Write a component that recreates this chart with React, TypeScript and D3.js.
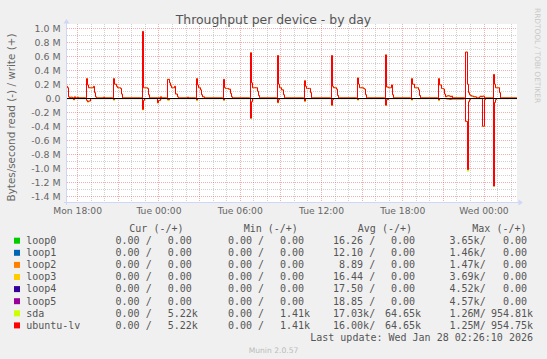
import React from "react";
import * as d3 from "d3";

// ---------- data ----------
const DAY_INDEX: Record<string, number> = { Mon: 0, Tue: 1, Wed: 2 };
const START_TIME = "Mon 17:11:17";
const END_TIME = "Wed 02:26:10";

// ubuntu-lv write (M bytes/s)
const ubuntuWrite: [string, number][] = [
  ["Mon 17:05", 0.17], ["Mon 17:10", 0.17], ["Mon 17:15", 0.15], ["Mon 17:20", 0.02], ["Mon 17:25", 0.005],
  ["Mon 17:30", 0.015], ["Mon 17:35", 0.005], ["Mon 17:45", 0.02], ["Mon 17:50", 0.005], ["Mon 18:00", 0.015],
  ["Mon 18:05", 0.005], ["Mon 18:35", 0.005],
  ["Mon 18:40", 0.28], ["Mon 18:45", 0.19], ["Mon 18:50", 0.15], ["Mon 18:55", 0.15], ["Mon 19:00", 0.15],
  ["Mon 19:05", 0.15], ["Mon 19:10", 0.17], ["Mon 19:15", 0.08], ["Mon 19:20", 0.02], ["Mon 19:25", 0.005],
  ["Mon 19:55", 0.015], ["Mon 20:00", 0.005], ["Mon 20:35", 0.005],
  ["Mon 20:40", 0.28], ["Mon 20:45", 0.2], ["Mon 20:50", 0.17], ["Mon 20:55", 0.15], ["Mon 21:00", 0.15],
  ["Mon 21:05", 0.15], ["Mon 21:10", 0.14], ["Mon 21:15", 0.06], ["Mon 21:20", 0.005], ["Mon 22:40", 0.005],
  ["Mon 22:45", 0.955], ["Mon 22:50", 0.15], ["Mon 22:55", 0.15], ["Mon 23:00", 0.15], ["Mon 23:05", 0.15],
  ["Mon 23:10", 0.14], ["Mon 23:15", 0.05], ["Mon 23:20", 0.005], ["Mon 23:55", 0.005], ["Tue 00:05", 0.02],
  ["Tue 00:10", 0.005], ["Tue 00:35", 0.005],
  ["Tue 00:40", 0.27], ["Tue 00:45", 0.22], ["Tue 00:50", 0.18], ["Tue 00:55", 0.15], ["Tue 01:00", 0.15],
  ["Tue 01:05", 0.15], ["Tue 01:10", 0.17], ["Tue 01:15", 0.06], ["Tue 01:20", 0.02], ["Tue 01:25", 0.005],
  ["Tue 02:05", 0.015], ["Tue 02:10", 0.005], ["Tue 02:40", 0.005],
  ["Tue 02:45", 0.28], ["Tue 02:50", 0.19], ["Tue 02:55", 0.15], ["Tue 03:00", 0.15], ["Tue 03:05", 0.12],
  ["Tue 03:10", 0.05], ["Tue 03:15", 0.02], ["Tue 03:20", 0.005], ["Tue 04:40", 0.005],
  ["Tue 04:45", 0.27], ["Tue 04:50", 0.15], ["Tue 04:55", 0.14], ["Tue 05:00", 0.14], ["Tue 05:05", 0.14],
  ["Tue 05:10", 0.13], ["Tue 05:15", 0.07], ["Tue 05:20", 0.02], ["Tue 05:25", 0.005], ["Tue 06:40", 0.005],
  ["Tue 06:45", 0.65], ["Tue 06:50", 0.22], ["Tue 06:55", 0.15], ["Tue 07:00", 0.15], ["Tue 07:05", 0.15],
  ["Tue 07:10", 0.15], ["Tue 07:15", 0.1], ["Tue 07:20", 0.04], ["Tue 07:25", 0.005], ["Tue 08:40", 0.005],
  ["Tue 08:45", 0.61], ["Tue 08:50", 0.2], ["Tue 08:55", 0.15], ["Tue 09:00", 0.15], ["Tue 09:05", 0.12],
  ["Tue 09:10", 0.05], ["Tue 09:15", 0.005], ["Tue 10:40", 0.005],
  ["Tue 10:45", 0.25], ["Tue 10:50", 0.17], ["Tue 10:55", 0.14], ["Tue 11:00", 0.14], ["Tue 11:05", 0.14],
  ["Tue 11:10", 0.08], ["Tue 11:15", 0.005], ["Tue 12:40", 0.005],
  ["Tue 12:45", 0.61], ["Tue 12:50", 0.17], ["Tue 12:55", 0.15], ["Tue 13:00", 0.15], ["Tue 13:05", 0.13],
  ["Tue 13:10", 0.04], ["Tue 13:15", 0.005], ["Tue 14:35", 0.005],
  ["Tue 14:40", 0.29], ["Tue 14:45", 0.2], ["Tue 14:50", 0.15], ["Tue 14:55", 0.15], ["Tue 15:00", 0.15],
  ["Tue 15:05", 0.14], ["Tue 15:10", 0.13], ["Tue 15:15", 0.05], ["Tue 15:20", 0.005], ["Tue 16:40", 0.005],
  ["Tue 16:45", 0.62], ["Tue 16:50", 0.16], ["Tue 16:55", 0.15], ["Tue 17:00", 0.15], ["Tue 17:05", 0.15],
  ["Tue 17:10", 0.19], ["Tue 17:15", 0.05], ["Tue 17:20", 0.005], ["Tue 18:35", 0.005],
  ["Tue 18:40", 0.28], ["Tue 18:45", 0.2], ["Tue 18:50", 0.15], ["Tue 18:55", 0.15], ["Tue 19:00", 0.15],
  ["Tue 19:05", 0.15], ["Tue 19:10", 0.12], ["Tue 19:15", 0.04], ["Tue 19:20", 0.005], ["Tue 20:35", 0.005],
  ["Tue 20:40", 0.28], ["Tue 20:45", 0.19], ["Tue 20:50", 0.14], ["Tue 20:55", 0.14], ["Tue 21:00", 0.13],
  ["Tue 21:05", 0.06], ["Tue 21:10", 0.02], ["Tue 21:15", 0.03], ["Tue 21:20", 0.035], ["Tue 21:25", 0.03],
  ["Tue 21:30", 0.02], ["Tue 21:35", 0.03], ["Tue 21:40", 0.005], ["Tue 22:35", 0.005],
  ["Tue 22:40", 0.66], ["Tue 22:45", 0.2], ["Tue 22:50", 0.08], ["Tue 22:55", 0.05], ["Tue 23:00", 0.04],
  ["Tue 23:05", 0.03], ["Tue 23:10", 0.03], ["Tue 23:15", 0.02], ["Tue 23:25", 0.005], ["Tue 23:40", 0.02],
  ["Tue 23:45", 0.03], ["Tue 23:50", 0.02], ["Tue 23:55", 0.03], ["Wed 00:00", 0.005], ["Wed 00:35", 0.005],
  ["Wed 00:40", 0.34], ["Wed 00:45", 0.2], ["Wed 00:50", 0.15], ["Wed 00:55", 0.15], ["Wed 01:00", 0.15],
  ["Wed 01:05", 0.15], ["Wed 01:10", 0.08], ["Wed 01:15", 0.005], ["Wed 02:25", 0.005], ["Wed 02:30", 0.005],
];

// ubuntu-lv read (M bytes/s, drawn negative)
const ubuntuRead: [string, number][] = [
  ["Mon 17:05", 0.005], ["Mon 17:35", 0.005], ["Mon 17:40", 0.02], ["Mon 17:45", 0.005], ["Mon 18:35", 0.005],
  ["Mon 18:40", 0.03], ["Mon 18:45", 0.05], ["Mon 18:50", 0.04], ["Mon 18:55", 0.01], ["Mon 19:00", 0.005],
  ["Mon 20:35", 0.005], ["Mon 20:40", 0.02], ["Mon 20:45", 0.005], ["Mon 22:40", 0.005], ["Mon 22:45", 0.16],
  ["Mon 22:50", 0.03], ["Mon 22:55", 0.01], ["Mon 23:00", 0.005], ["Mon 23:50", 0.005], ["Mon 23:55", 0.065],
  ["Tue 00:00", 0.03], ["Tue 00:05", 0.01], ["Tue 00:10", 0.005], ["Tue 00:35", 0.005], ["Tue 00:40", 0.02],
  ["Tue 00:45", 0.005], ["Tue 02:40", 0.005], ["Tue 02:45", 0.025], ["Tue 02:50", 0.005], ["Tue 04:40", 0.005],
  ["Tue 04:45", 0.025], ["Tue 04:50", 0.005], ["Tue 06:40", 0.005], ["Tue 06:45", 0.285], ["Tue 06:50", 0.05],
  ["Tue 06:55", 0.01], ["Tue 07:00", 0.005], ["Tue 08:40", 0.005], ["Tue 08:45", 0.06], ["Tue 08:50", 0.02],
  ["Tue 08:55", 0.005], ["Tue 10:40", 0.005], ["Tue 10:45", 0.04], ["Tue 10:50", 0.005], ["Tue 12:40", 0.005],
  ["Tue 12:45", 0.1], ["Tue 12:50", 0.02], ["Tue 12:55", 0.005], ["Tue 14:35", 0.005], ["Tue 14:40", 0.02],
  ["Tue 14:45", 0.005], ["Tue 16:40", 0.005], ["Tue 16:45", 0.1], ["Tue 16:50", 0.02], ["Tue 16:55", 0.005],
  ["Tue 18:35", 0.005], ["Tue 18:40", 0.02], ["Tue 18:45", 0.005], ["Tue 20:35", 0.005], ["Tue 20:40", 0.025],
  ["Tue 20:45", 0.005], ["Tue 21:15", 0.01], ["Tue 21:25", 0.015], ["Tue 21:35", 0.01], ["Tue 22:35", 0.005],
  ["Tue 22:40", 0.33], ["Tue 22:45", 1.02], ["Tue 22:50", 0.05], ["Tue 22:55", 0.02], ["Tue 23:00", 0.005],
  ["Tue 23:50", 0.005], ["Tue 23:55", 0.4], ["Wed 00:00", 0.02], ["Wed 00:05", 0.005], ["Wed 00:35", 0.005],
  ["Wed 00:40", 1.255], ["Wed 00:45", 0.06], ["Wed 00:50", 0.02], ["Wed 00:55", 0.005], ["Wed 02:30", 0.005],
];

// sda read: the same device underneath, slightly deeper at the read bursts
const sdaRead: [string, number][] = [
  ["Mon 17:05", 0.005], ["Mon 17:35", 0.005], ["Mon 17:40", 0.025], ["Mon 17:45", 0.005], ["Mon 18:35", 0.005],
  ["Mon 18:40", 0.035], ["Mon 18:45", 0.055], ["Mon 18:50", 0.04], ["Mon 18:55", 0.01], ["Mon 19:00", 0.005],
  ["Mon 20:35", 0.005], ["Mon 20:40", 0.03], ["Mon 20:45", 0.005], ["Mon 22:40", 0.005], ["Mon 22:45", 0.17],
  ["Mon 22:50", 0.03], ["Mon 22:55", 0.01], ["Mon 23:00", 0.005], ["Mon 23:50", 0.005], ["Mon 23:55", 0.07],
  ["Tue 00:00", 0.03], ["Tue 00:05", 0.01], ["Tue 00:10", 0.005], ["Tue 00:35", 0.005], ["Tue 00:40", 0.03],
  ["Tue 00:45", 0.005], ["Tue 02:40", 0.005], ["Tue 02:45", 0.035], ["Tue 02:50", 0.005], ["Tue 04:40", 0.005],
  ["Tue 04:45", 0.035], ["Tue 04:50", 0.005], ["Tue 06:40", 0.005], ["Tue 06:45", 0.29], ["Tue 06:50", 0.05],
  ["Tue 06:55", 0.01], ["Tue 07:00", 0.005], ["Tue 08:40", 0.005], ["Tue 08:45", 0.07], ["Tue 08:50", 0.02],
  ["Tue 08:55", 0.005], ["Tue 10:40", 0.005], ["Tue 10:45", 0.05], ["Tue 10:50", 0.005], ["Tue 12:40", 0.005],
  ["Tue 12:45", 0.105], ["Tue 12:50", 0.02], ["Tue 12:55", 0.005], ["Tue 14:35", 0.005], ["Tue 14:40", 0.03],
  ["Tue 14:45", 0.005], ["Tue 16:40", 0.005], ["Tue 16:45", 0.105], ["Tue 16:50", 0.02], ["Tue 16:55", 0.005],
  ["Tue 18:35", 0.005], ["Tue 18:40", 0.03], ["Tue 18:45", 0.005], ["Tue 20:35", 0.005], ["Tue 20:40", 0.035],
  ["Tue 20:45", 0.005], ["Tue 21:15", 0.01], ["Tue 21:25", 0.015], ["Tue 21:35", 0.01], ["Tue 22:35", 0.005],
  ["Tue 22:40", 0.33], ["Tue 22:45", 1.045], ["Tue 22:50", 0.05], ["Tue 22:55", 0.02], ["Tue 23:00", 0.005],
  ["Tue 23:50", 0.005], ["Tue 23:55", 0.405], ["Wed 00:00", 0.02], ["Wed 00:05", 0.005], ["Wed 00:35", 0.005],
  ["Wed 00:40", 1.26], ["Wed 00:45", 0.06], ["Wed 00:50", 0.02], ["Wed 00:55", 0.005], ["Wed 02:30", 0.005],
];
const sdaWrite = ubuntuWrite;

// legend
const seriesNames = ["loop0", "loop1", "loop2", "loop3", "loop4", "loop5", "sda", "ubuntu-lv"];
const seriesColors = ["#00CC00", "#0066B3", "#FF8000", "#FFCC00", "#330099", "#990099", "#CCFF00", "#FF0000"];
const curRead = [0, 0, 0, 0, 0, 0, 0, 0];
const curWrite = [0, 0, 0, 0, 0, 0, 5220, 5220];
const minRead = [0, 0, 0, 0, 0, 0, 0, 0];
const minWrite = [0, 0, 0, 0, 0, 0, 1410, 1410];
const avgRead = [16.26, 12.1, 8.89, 16.44, 17.5, 18.85, 17030, 16000];
const avgWrite = [0, 0, 0, 0, 0, 0, 64650, 64650];
const maxRead = [3650, 1460, 1470, 3690, 4520, 4570, 1260000, 1250000];
const maxWrite = [0, 0, 0, 0, 0, 0, 954810, 954750];
const legendHeaders = ["Cur (-/+)", "Min (-/+)", "Avg (-/+)", "Max (-/+)"];

const yMajorTicks = [1.0, 0.8, 0.6, 0.4, 0.2, 0.0, -0.2, -0.4, -0.6, -0.8, -1.0, -1.2, -1.4];
const yMinorTicks = [0.9, 0.7, 0.5, 0.3, 0.1, -0.1, -0.3, -0.5, -0.7, -0.9, -1.1, -1.3];

const TITLE = "Throughput per device - by day";
const Y_LABEL = "Bytes/second read (-) / write (+)";
const WATERMARK = "RRDTOOL / TOBI OETIKER";
const LAST_UPDATE = "Last update: Wed Jan 28 02:26:10 2026";
const VERSION = "Munin 2.0.57";

// ---------- helpers ----------
function parseT(s: string): Date {
  const [d, hms] = s.split(" ");
  const [h, m, sec] = hms.split(":").map(Number);
  return new Date(Date.UTC(2026, 0, 26 + DAY_INDEX[d], h, m, sec || 0));
}
function fmtSI(v: number): [string, string] {
  if (v >= 1e6) return [(v / 1e6).toFixed(2), "M"];
  if (v >= 1e3) return [(v / 1e3).toFixed(2), "k"];
  return [v.toFixed(2), " "];
}
function readCell(v: number) {
  const [n, p] = fmtSI(v);
  return n.padStart(6, " ") + p + "/";
}
function writeCell(v: number) {
  const [n, p] = fmtSI(v);
  return n.padStart(6, " ") + p;
}

const PLOT = { left: 66.7, right: 517, top: 24, bottom: 202 };
const Y_DOMAIN: [number, number] = [-1.483, 1.061];

export default function App() {
  const x = d3.scaleUtc().domain([parseT(START_TIME), parseT(END_TIME)]).range([PLOT.left, PLOT.right]);
  const y = d3.scaleLinear().domain(Y_DOMAIN).range([PLOT.bottom, PLOT.top]);

  const majorX = x.ticks(d3.utcHour.every(3)!);
  const minorX = x.ticks(d3.utcHour.every(1)!).filter((t) => t.getUTCHours() % 3 !== 0);
  const labelX = x.ticks(d3.utcHour.every(6)!);
  const fmtX = d3.utcFormat("%a %H:%M");

  const px = (v: number) => Math.round(v - 0.5) + 0.5;

  const lineGen = (sign: number) =>
    d3.line<[string, number]>()
      .x((d) => px(x(parseT(d[0]))))
      .y((d) => y(sign * d[1]))
      .curve(d3.curveStepAfter);

  const mono = "'DejaVu Sans Mono', monospace";
  const sans = "'DejaVu Sans', sans-serif";
  const textCol = "#555";

  const colReadX = [103.5, 215.9, 327, 437.5];
  const colWriteX = [155.6, 267.9, 378.9, 490.9];
  const headerX = [129.3, 243.7, 357.8, 472.3];
  const rowBase = (i: number) => 244 + 12.1 * i;

  return (
    <svg width={547} height={359} style={{ display: "block", position: "absolute", left: 0, top: 0 }}
      xmlns="http://www.w3.org/2000/svg">
      <rect x={0} y={0} width={547} height={359} fill="#F0F0F0" />
      <rect x={PLOT.left} y={PLOT.top} width={PLOT.right - PLOT.left} height={PLOT.bottom - PLOT.top} fill="#FFFFFF" />
      <defs>
        <clipPath id="plotclip">
          <rect x={PLOT.left} y={PLOT.top - 2} width={PLOT.right - PLOT.left} height={PLOT.bottom - PLOT.top + 2} />
        </clipPath>
      </defs>

      {/* minor grid */}
      <g stroke="rgba(143,143,143,0.42)" strokeWidth={1} strokeDasharray="1,1" shapeRendering="crispEdges">
        {minorX.map((t, i) => (
          <line key={"vx" + i} x1={px(x(t))} x2={px(x(t))} y1={PLOT.top} y2={PLOT.bottom} />
        ))}
        {yMinorTicks.map((v, i) => (
          <line key={"hy" + i} x1={PLOT.left} x2={PLOT.right} y1={px(y(v))} y2={px(y(v))} />
        ))}
      </g>
      {/* major grid */}
      <g stroke="rgba(222,79,79,0.45)" strokeWidth={1} strokeDasharray="1,1" shapeRendering="crispEdges">
        {majorX.map((t, i) => (
          <line key={"mx" + i} x1={px(x(t))} x2={px(x(t))} y1={PLOT.top} y2={PLOT.bottom} />
        ))}
        {yMajorTicks.map((v, i) => (
          <line key={"my" + i} x1={PLOT.left} x2={PLOT.right} y1={px(y(v))} y2={px(y(v))} />
        ))}
      </g>

      {/* series */}
      <g clipPath="url(#plotclip)" fill="none" strokeWidth={1}>
        <path d={lineGen(1)(sdaWrite) || ""} stroke="#CCFF00" />
        <path d={lineGen(-1)(sdaRead) || ""} stroke="#CCFF00" />
        <path d={lineGen(1)(ubuntuWrite) || ""} stroke="#FF0000" />
        <path d={lineGen(-1)(ubuntuRead) || ""} stroke="#FF0000" />
        <line x1={PLOT.left} x2={PLOT.right} y1={px(y(0))} y2={px(y(0))} stroke="#000" strokeWidth={1} />
      </g>

      {/* axes */}
      <g stroke="#CFD6F8" fill="#CFD6F8" shapeRendering="crispEdges">
        <line x1={66.5} x2={66.5} y1={PLOT.bottom + 3} y2={PLOT.top - 2} />
        <line x1={PLOT.left - 3} x2={PLOT.right + 3} y1={PLOT.bottom + 0.5} y2={PLOT.bottom + 0.5} />
      </g>
      <polygon points={`63.5,${PLOT.top - 0.5} 69.5,${PLOT.top - 0.5} 66.5,${PLOT.top - 5}`} fill="#CFD6F8" />
      <polygon points={`${PLOT.right + 1.5},${PLOT.bottom - 2.5} ${PLOT.right + 1.5},${PLOT.bottom + 3.5} ${PLOT.right + 6},${PLOT.bottom + 0.5}`} fill="#CFD6F8" />

      {/* y tick labels */}
      <g fontFamily={sans} fontSize={9.4} fill="#666" textAnchor="end">
        {yMajorTicks.map((v, i) => (
          <text key={"yl" + i} x={60.5} y={y(v) + 3.4}>{v === 0 ? "0.0" : v.toFixed(1) + " M"}</text>
        ))}
      </g>
      {/* x tick labels */}
      <g fontFamily={sans} fontSize={9.2} fill="#666" textAnchor="middle">
        {labelX.map((t, i) => (
          <text key={"xl" + i} x={x(t)} y={214}>{fmtX(t)}</text>
        ))}
      </g>

      {/* title & labels */}
      <text x={273.5} y={23.5} textAnchor="middle" fontFamily={sans} fontSize={12.4} fill="#555">{TITLE}</text>
      <text transform="translate(15,117.5) rotate(-90)" textAnchor="middle" fontFamily={sans} fontSize={10.4} fill="#666">{Y_LABEL}</text>
      <text transform="translate(535,8) rotate(90)" fontFamily={sans} fontSize={7.4} fill="#C8C8C8">{WATERMARK}</text>

      {/* legend */}
      <g fontFamily={mono} fontSize={10} fill={textCol} style={{ whiteSpace: "pre" }}>
        {legendHeaders.map((h, i) => (
          <text key={"hd" + i} x={headerX[i]} y={232} xmlSpace="preserve">{h}</text>
        ))}
        {seriesNames.map((name, i) => {
          const cells = [
            [readCell(curRead[i]), writeCell(curWrite[i])],
            [readCell(minRead[i]), writeCell(minWrite[i])],
            [readCell(avgRead[i]), writeCell(avgWrite[i])],
            [readCell(maxRead[i]), writeCell(maxWrite[i])],
          ];
          const yb = rowBase(i);
          return (
            <g key={"lg" + i}>
              <rect x={14} y={yb - 6.3} width={6} height={6} fill={seriesColors[i]} />
              <text x={26.2} y={yb}>{name}</text>
              {cells.map((c, j) => (
                <React.Fragment key={"c" + j}>
                  <text x={colReadX[j]} y={yb} xmlSpace="preserve">{c[0]}</text>
                  <text x={colWriteX[j]} y={yb} xmlSpace="preserve">{c[1]}</text>
                </React.Fragment>
              ))}
            </g>
          );
        })}
        <text x={533} y={340.5} textAnchor="end" xmlSpace="preserve">{LAST_UPDATE}</text>
      </g>
      <text x={273.5} y={353} textAnchor="middle" fontFamily={sans} fontSize={7.6} fill="#BBBBBB">{VERSION}</text>
    </svg>
  );
}
